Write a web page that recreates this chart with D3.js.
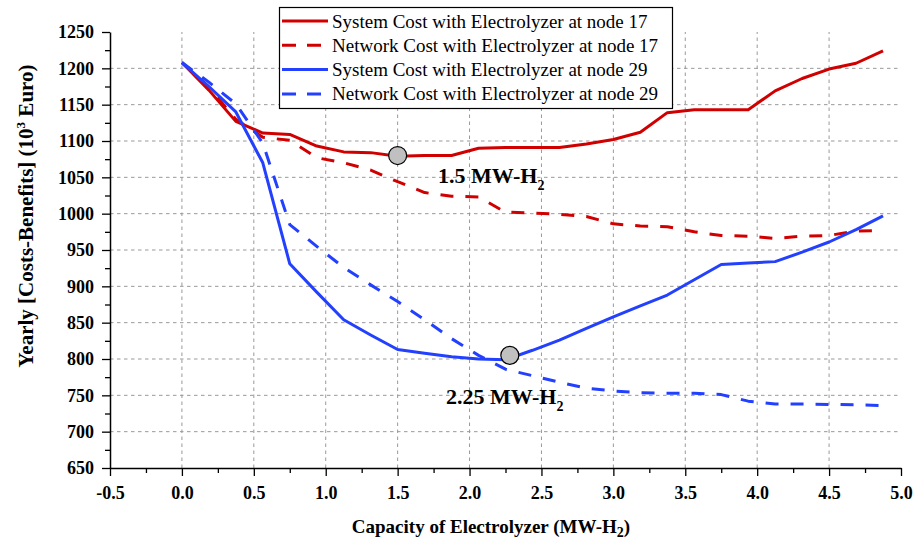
<!DOCTYPE html>
<html>
<head>
<meta charset="utf-8">
<script src="https://cdn.jsdelivr.net/npm/d3@7"></script>
<style>
  body { margin: 0; background: #fff; }
  svg text { font-family: "Liberation Serif", "Times New Roman", "DejaVu Serif", serif; }
</style>
</head>
<body>
<div id="chart"></div>
<script>
// capacity of electrolyzer (MW-H2)
var capacity = [0, 0.1875, 0.375, 0.5625, 0.75, 0.9375, 1.125, 1.3125, 1.5, 1.6875, 1.875, 2.0625, 2.25,
	2.4375, 2.625, 2.8125, 3.0, 3.1875, 3.375, 3.5625, 3.75, 3.9375, 4.125, 4.3125, 4.5, 4.6875, 4.875];

// yearly costs-benefits (10^3 euro)
var system17 = [1208, 1170, 1127, 1111, 1109, 1093, 1085, 1084, 1079, 1080, 1080, 1090, 1091,
	1091, 1091, 1096, 1102, 1112, 1139, 1143, 1143, 1143, 1169, 1186, 1199, 1207, 1224];
var network17 = [1208, 1174, 1130, 1105, 1101, 1077, 1070, 1060, 1044, 1029, 1024, 1023, 1002,
	1001, 999, 996, 986, 983, 982, 975, 970, 969, 966, 969, 970, 976, 977];
var system29 = [1208, 1175, 1140, 1070, 931, 892, 854, 833, 813, 808, 803, 800, 799,
	812, 826, 842, 858, 873, 888, 909, 930, 932, 934, 947, 961, 978, 997];
var network29 = [1208, 1181, 1151, 1097, 985, 955, 926, 902, 879, 854, 828, 805, 786,
	777, 768, 760, 756, 753.5, 753, 753, 751, 742, 738, 738, 737.5, 737, 736];

var seriesNames = ["System Cost with Electrolyzer at node 17", "Network Cost with Electrolyzer at node 17",
	"System Cost with Electrolyzer at node 29", "Network Cost with Electrolyzer at node 29"];

// optimum points
var optX = [1.5, 2.28];
var optY = [1080, 805];
var optLabel = ["1.5", "2.25"];

var xTicks = [-0.5, 0, 0.5, 1, 1.5, 2, 2.5, 3, 3.5, 4, 4.5, 5];
var yTicks = [650, 700, 750, 800, 850, 900, 950, 1000, 1050, 1100, 1150, 1200, 1250];

var red = "#d10000", blue = "#2340ff";

var width = 915, height = 542;
var margin = { top: 32, left: 110, right: 14, bottom: 74 };

var svg = d3.select("#chart").append("svg")
	.attr("width", width)
	.attr("height", height);

var x = d3.scaleLinear().domain([-0.5, 5.0]).range([margin.left, width - margin.right]);
var y = d3.scaleLinear().domain([650, 1250]).range([height - margin.bottom, margin.top]);

// grid
svg.append("g").selectAll("line")
	.data(xTicks.filter(d => d > -0.5 && d < 5))
	.enter().append("line")
	.attr("x1", d => x(d)).attr("x2", d => x(d))
	.attr("y1", y(650)).attr("y2", y(1250))
	.attr("stroke", "#999").attr("stroke-width", 1).attr("stroke-dasharray", "3.5,3.5");
svg.append("g").selectAll("line")
	.data(yTicks.filter(d => d > 650 && d < 1250))
	.enter().append("line")
	.attr("x1", x(-0.5)).attr("x2", x(5))
	.attr("y1", d => y(d)).attr("y2", d => y(d))
	.attr("stroke", "#999").attr("stroke-width", 1).attr("stroke-dasharray", "3.5,3.5");

// axes
var minorX = d3.range(-0.25, 5, 0.5), minorY = d3.range(675, 1250, 50);
svg.append("g")
	.attr("transform", "translate(0," + y(650) + ")")
	.call(d3.axisBottom(x).tickValues(minorX).tickSize(5).tickFormat(""))
	.call(g => g.select(".domain").remove());
svg.append("g")
	.attr("transform", "translate(" + x(-0.5) + ",0)")
	.call(d3.axisLeft(y).tickValues(minorY).tickSize(5).tickFormat(""))
	.call(g => g.select(".domain").remove());

var xAxis = svg.append("g")
	.attr("transform", "translate(0," + y(650) + ")")
	.call(d3.axisBottom(x).tickValues(xTicks).tickSize(8).tickSizeOuter(0).tickPadding(10)
		.tickFormat(d => d.toFixed(1)));
var yAxis = svg.append("g")
	.attr("transform", "translate(" + x(-0.5) + ",0)")
	.call(d3.axisLeft(y).tickValues(yTicks).tickSize(8).tickSizeOuter(0).tickPadding(8)
		.tickFormat(d => String(d)));

[xAxis, yAxis].forEach(function(g) {
	g.selectAll("text")
		.style("font-weight", "bold")
		.style("font-size", "18px")
		.attr("fill", "#000");
	g.select(".domain").attr("stroke-width", 1.5);
});
svg.selectAll(".tick line").attr("stroke-width", 1.3);

// lines
var line = d3.line()
	.x((d, i) => x(capacity[i]))
	.y(d => y(d));

var series = [
	{ values: system17, color: red, dash: null },
	{ values: network17, color: red, dash: "13,12" },
	{ values: system29, color: blue, dash: null },
	{ values: network29, color: blue, dash: "13,12" }
];

svg.append("g").selectAll("path")
	.data(series)
	.enter().append("path")
	.attr("d", d => line(d.values))
	.attr("fill", "none")
	.attr("stroke", d => d.color)
	.attr("stroke-width", 3)
	.attr("stroke-linejoin", "round")
	.attr("stroke-dasharray", d => d.dash);

// optimum markers
svg.append("g").selectAll("circle")
	.data(optX)
	.enter().append("circle")
	.attr("cx", d => x(d))
	.attr("cy", (d, i) => y(optY[i]))
	.attr("r", 9)
	.attr("fill", "#c0c0c0")
	.attr("stroke", "#000")
	.attr("stroke-width", 1.2);

// annotation labels
var annPos = [[438, 183], [446, 404]];
optLabel.forEach(function(lbl, i) {
	var t = svg.append("text")
		.attr("x", annPos[i][0]).attr("y", annPos[i][1])
		.style("font-weight", "bold").style("font-size", "22px");
	t.append("tspan").text(lbl + " MW-H");
	t.append("tspan").attr("dy", 7).style("font-size", "14px").text("2");
});

// axis titles
var xt = svg.append("text")
	.attr("x", 491).attr("y", 533)
	.attr("text-anchor", "middle")
	.style("font-weight", "bold").style("font-size", "19px");
xt.append("tspan").text("Capacity of Electrolyzer (MW-H");
xt.append("tspan").attr("dy", 4).style("font-size", "14px").text("2");
xt.append("tspan").attr("dy", -4).text(")");

var yt = svg.append("text")
	.attr("transform", "translate(33,216) rotate(-90)")
	.attr("text-anchor", "middle")
	.style("font-weight", "bold").style("font-size", "21px");
yt.append("tspan").text("Yearly [Costs-Benefits] (10");
yt.append("tspan").attr("dy", -8).style("font-size", "13px").text("3");
yt.append("tspan").attr("dy", 8).text(" Euro)");

// legend
var legend = svg.append("g");
legend.append("rect")
	.attr("x", 279.5).attr("y", 7.5)
	.attr("width", 393).attr("height", 101)
	.attr("fill", "#fff").attr("stroke", "#000").attr("stroke-width", 1.2);
series.forEach(function(s, i) {
	var ly = 21 + i * 24.3;
	legend.append("line")
		.attr("x1", 282).attr("x2", 328)
		.attr("y1", ly).attr("y2", ly)
		.attr("stroke", s.color).attr("stroke-width", 3)
		.attr("stroke-dasharray", s.dash ? "14,11" : null);
	legend.append("text")
		.attr("x", 332).attr("y", ly + 6.5)
		.style("font-size", "19px")
		.text(seriesNames[i]);
});
</script>
</body>
</html>
